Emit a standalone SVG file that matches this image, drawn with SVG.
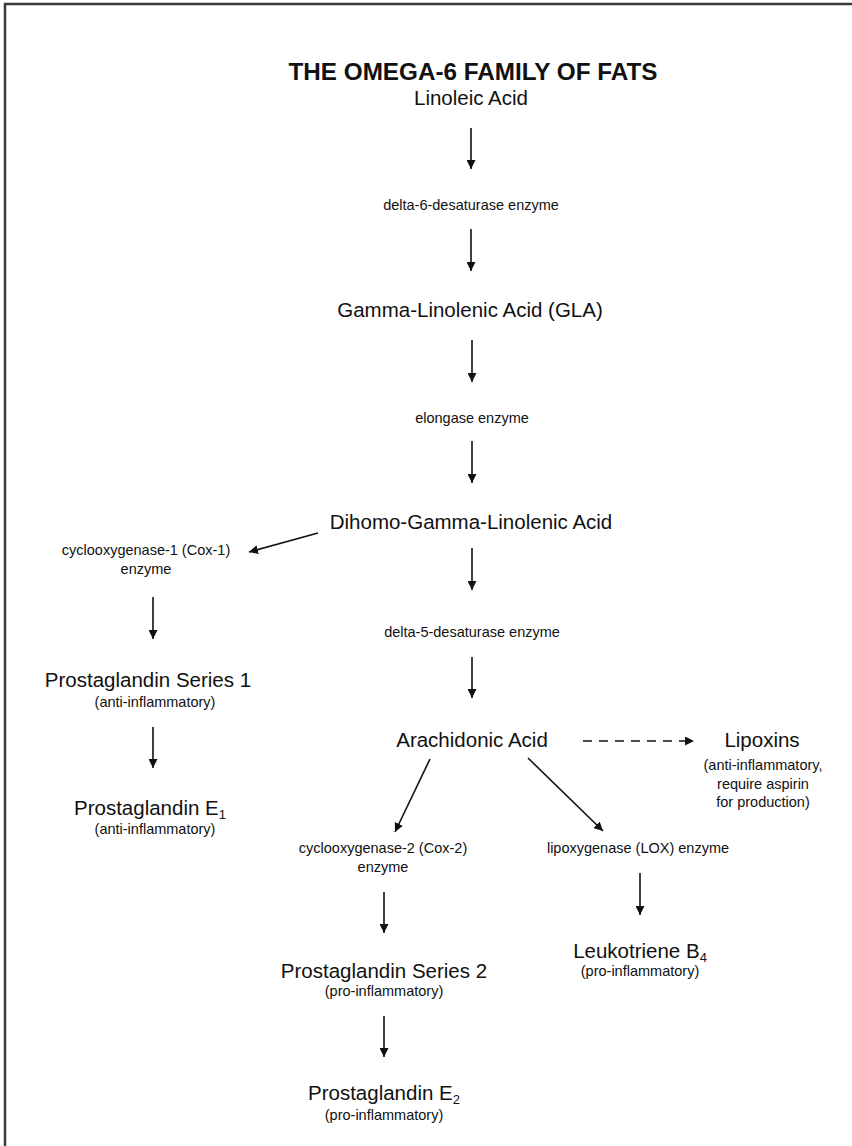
<svg xmlns="http://www.w3.org/2000/svg" width="852" height="1146" viewBox="0 0 852 1146">
<defs>
<marker id="ah" viewBox="0 0 10 10" refX="10" refY="5" markerWidth="9" markerHeight="9" markerUnits="userSpaceOnUse" orient="auto">
<path d="M0,0 L10,5 L0,10 Z" fill="#111"/>
</marker>
<style>
text{font-family:"Liberation Sans",Arial,Helvetica,sans-serif;fill:#111;text-anchor:middle}
tspan{fill:#111}
.t{font-size:23px;font-weight:bold}
.m{font-size:20.5px}
.s{font-size:14.5px}
.sub{font-size:13px}
.c line{stroke:#111;stroke-width:1.6;marker-end:url(#ah)}
.c .d{stroke-dasharray:9 7}
</style>
</defs>
<rect width="852" height="1146" fill="#fff"/>
<rect x="5" y="4" width="870" height="1170" fill="none" stroke="#3a3a3a" stroke-width="2.5"/>
<g id="title"><text class="t" x="473" y="80" textLength="369" lengthAdjust="spacingAndGlyphs">THE OMEGA-6 FAMILY OF FATS</text></g>
<g id="linoleic"><text class="m" x="471" y="105">Linoleic Acid</text></g>
<g id="d6"><text class="s" x="471" y="210">delta-6-desaturase enzyme</text></g>
<g id="gla"><text class="m" x="470" y="317">Gamma-Linolenic Acid (GLA)</text></g>
<g id="elongase"><text class="s" x="472" y="423">elongase enzyme</text></g>
<g id="dgla"><text class="m" x="471" y="529">Dihomo-Gamma-Linolenic Acid</text></g>
<g id="cox1"><text class="s" x="146" y="555">cyclooxygenase-1 (Cox-1)</text><text class="s" x="146" y="574">enzyme</text></g>
<g id="pgs1"><text class="m" x="148" y="687">Prostaglandin Series 1</text><text class="s" x="155" y="707">(anti-inflammatory)</text></g>
<g id="pge1"><text class="m" x="150" y="815">Prostaglandin E<tspan class="sub" dy="4">1</tspan></text><text class="s" x="155" y="834">(anti-inflammatory)</text></g>
<g id="d5"><text class="s" x="472" y="637">delta-5-desaturase enzyme</text></g>
<g id="aa"><text class="m" x="472" y="747">Arachidonic Acid</text></g>
<g id="lipoxins"><text class="m" x="762" y="747">Lipoxins</text><text class="s" x="763" y="770">(anti-inflammatory,</text><text class="s" x="763" y="789">require aspirin</text><text class="s" x="763" y="807">for production)</text></g>
<g id="cox2"><text class="s" x="383" y="853">cyclooxygenase-2 (Cox-2)</text><text class="s" x="383" y="872">enzyme</text></g>
<g id="lox"><text class="s" x="638" y="853">lipoxygenase (LOX) enzyme</text></g>
<g id="ltb4"><text class="m" x="640" y="958">Leukotriene B<tspan class="sub" dy="4">4</tspan></text><text class="s" x="640" y="976">(pro-inflammatory)</text></g>
<g id="pgs2"><text class="m" x="384" y="978">Prostaglandin Series 2</text><text class="s" x="384" y="996">(pro-inflammatory)</text></g>
<g id="pge2"><text class="m" x="384" y="1100">Prostaglandin E<tspan class="sub" dy="4">2</tspan></text><text class="s" x="384" y="1120">(pro-inflammatory)</text></g>
<g id="connectors" class="c">
<line x1="471" y1="128" x2="471" y2="169"/>
<line x1="471" y1="229" x2="471" y2="271"/>
<line x1="472" y1="340" x2="472" y2="382"/>
<line x1="472" y1="441" x2="472" y2="483"/>
<line x1="318" y1="533" x2="249" y2="552"/>
<line x1="472" y1="548" x2="472" y2="590"/>
<line x1="153" y1="597" x2="153" y2="639"/>
<line x1="153" y1="727" x2="153" y2="768"/>
<line x1="472" y1="657" x2="472" y2="698"/>
<line class="d" x1="583" y1="741" x2="694" y2="741"/>
<line x1="430" y1="759" x2="395" y2="832"/>
<line x1="528" y1="758" x2="603" y2="831"/>
<line x1="384" y1="892" x2="384" y2="933"/>
<line x1="640" y1="873" x2="640" y2="915"/>
<line x1="384" y1="1016" x2="384" y2="1057"/>
</g>
</svg>
